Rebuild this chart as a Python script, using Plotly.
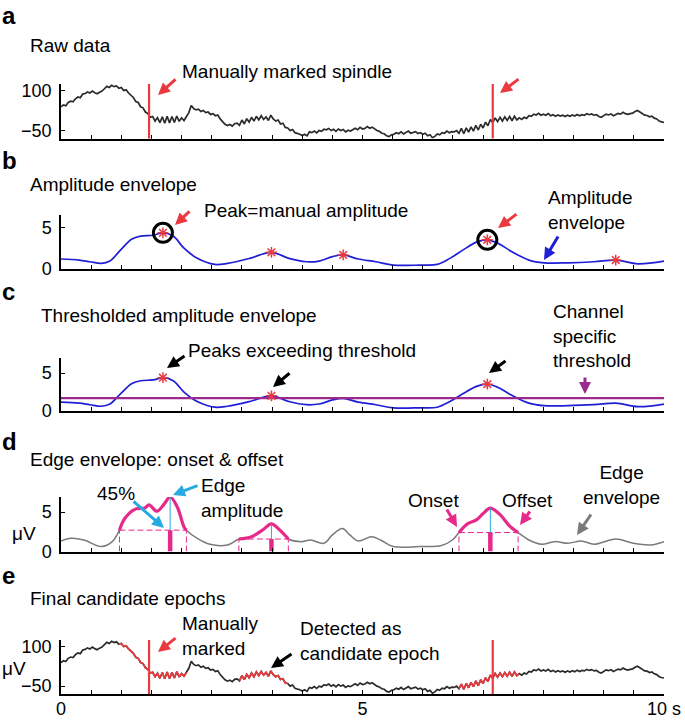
import numpy as np
import plotly.graph_objects as go

W, H = 685, 720

# ---------------- data ----------------
# raw EEG trace, sampled every 0.04 s from 0 to 10 s (microvolts)
raw_uv = [
    40, 47, 44, 56, 61, 59, 70, 77, 74, 88,
    90, 96, 92, 99, 93, 89, 95, 99, 108, 117,
    113, 121, 116, 119, 110, 113, 101, 104, 92, 84,
    75, 60, 56, 40, 36, 20, 14, 0, 3, -14,
    -1, -20, 2, -22, 4, -21, 3, -19, 5, -15,
    -2, -12, 2, 18, 45, 33, 28, 31, 22, 26,
    18, 20, 11, 14, 6, 9, -6, -18, -26, -31,
    -27, -33, -24, -22, -30, -10, -25, -5, -18, 0,
    -14, 4, -10, 6, -8, 2, -12, 8, -6, -14,
    -10, -25, -22, -38, -40, -50, -46, -58, -60, -64,
    -69, -64, -70, -55, -58, -52, -59, -50, -53, -45,
    -47, -42, -50, -45, -53, -44, -50, -46, -55, -49,
    -52, -45, -41, -47, -38, -44, -42, -35, -41, -37,
    -44, -50, -53, -60, -62, -70, -73, -66, -64, -58,
    -62, -55, -63, -58, -52, -60, -57, -54, -61, -58,
    -64, -60, -70, -66, -77, -72, -63, -66, -58, -60,
    -52, -58, -54, -55, -50, -60, -42, -62, -40, -56,
    -36, -52, -30, -48, -26, -40, -18, -32, -8, -20,
    -2, -16, 0, -14, 2, -12, 3, -13, 4, -10,
    -2, -8, 0, -4, 6, 4, 12, 9, 15, 8,
    12, 8, 14, 6, 10, 4, 9, 5, 8, 3,
    8, 4, 9, 5, 11, 6, 10, 8, 14, 10,
    13, 8, 10, 3, 0, 7, 12, 9, 13, 6,
    9, 15, 12, 19, 14, 11, 14, 16, 22, 26,
    20, 14, 8, 7, 2, 4, -3, -6, -14, -17,
    -19,
]
raw_dt = 0.04

# manually marked spindles (s)
manual_marks = [1.46, 7.16]

# amplitude envelope
amp_t = [0, 0.30, 0.48, 0.67, 0.81, 0.99, 1.17, 1.32, 1.53, 1.69, 1.86, 2.04, 2.26,
         2.55, 2.76, 3.13, 3.49, 3.78, 4.07, 4.28, 4.5, 4.68, 4.93, 5.22, 5.51, 5.95,
         6.24, 6.45, 6.67, 6.89, 7.07, 7.25, 7.47, 7.76, 8.01, 8.41, 8.84, 9.2, 9.57, 10]
amp_v = [1.17, 1.04, 0.83, 0.63, 0.92, 2.3, 3.6, 4.0, 4.1, 4.4, 4.0, 2.5, 1.25,
         0.5, 0.63, 1.25, 2.0, 1.25, 0.83, 0.92, 1.46, 1.67, 1.17, 0.83, 0.42, 0.42,
         0.5, 1.25, 2.3, 3.25, 3.54, 3.1, 2.1, 1.04, 0.7, 0.7, 0.83, 1.04, 0.58, 0.92]

# envelope peaks
peak_t = [1.69, 3.49, 4.68, 7.07, 9.2]
peak_v = [4.4, 2.0, 1.67, 3.54, 1.04]
manual_peak_t = [1.69, 7.07]
manual_peak_v = [4.4, 3.54]
threshold = 1.7

# edge envelope
edge_t = [0, 0.16, 0.38, 0.67, 0.85, 0.97, 1.06, 1.24, 1.39, 1.46, 1.59, 1.71, 1.81, 1.93,
          2.04, 2.08, 2.26, 2.47, 2.76, 2.95, 3.16, 3.34, 3.49, 3.63, 3.77, 3.99, 4.14,
          4.36, 4.5, 4.67, 4.79, 4.93, 5.15, 5.3, 5.51, 5.95, 6.31, 6.49, 6.6, 6.74, 6.89,
          7.0, 7.12, 7.29, 7.43, 7.58, 7.76, 7.97, 8.19, 8.41, 8.63, 8.84, 9.2, 9.49, 9.78, 10]
edge_v = [1.33, 1.67, 1.46, 0.63, 1.25, 2.7, 4.2, 5.4, 5.5, 5.9, 5.1, 6.0, 6.9, 5.6,
          3.1, 2.7, 1.67, 0.92, 0.83, 1.58, 1.88, 2.7, 3.5, 2.7, 1.58, 1.25, 1.46,
          1.04, 2.1, 2.9, 2.1, 1.33, 1.88, 1.46, 0.63, 0.63, 0.75, 1.46, 2.4, 3.5, 4.0,
          4.8, 5.5, 4.6, 3.3, 2.4, 1.46, 0.92, 1.25, 1.04, 1.33, 0.92, 1.58, 1.04, 0.83, 1.25]

epoch_onset = [0.97, 2.95, 6.60]
epoch_offset = [2.08, 3.77, 7.58]
edge_peak_t = [1.81, 3.49, 7.12]
edge_peak_v = [6.9, 3.5, 5.5]
edge_level = [2.7, 1.58, 2.4]

x_tick_vals = [i * 0.5 for i in range(21)]
x_tick_text = ["0"] + [""] * 9 + ["5"] + [""] * 9 + ["10 s"]

# ---------------- styling ----------------
FONT = "Liberation Sans, Arial, Helvetica, sans-serif"
RED = "#ea3a3f"
BLUE = "#1f1fd6"
PURPLE = "#9c2a8c"
MAGENTA = "#e6298b"
CYAN = "#27aae1"
GRAY = "#7a7a7a"
DARK = "#2b2b2b"

raw_t = np.round(np.arange(len(raw_uv)) * raw_dt, 2)
raw_arr = np.array(raw_uv)

fig = go.Figure()

# panel a
fig.add_trace(go.Scatter(x=raw_t, y=raw_uv, mode="lines", line=dict(color=DARK, width=1.7),
                         xaxis="x", yaxis="y"))
for m in manual_marks:
    fig.add_shape(type="line", x0=m, x1=m, y0=0, y1=1, xref="x", yref="y domain",
                  line=dict(color=RED, width=2.2))

# panel b
fig.add_trace(go.Scatter(x=amp_t, y=amp_v, mode="lines", line=dict(color=BLUE, width=1.7, shape="spline"),
                         xaxis="x2", yaxis="y2"))
fig.add_trace(go.Scatter(x=manual_peak_t, y=manual_peak_v, mode="markers",
                         marker=dict(symbol="circle-open", size=19, color="black", line=dict(width=3)),
                         xaxis="x2", yaxis="y2"))
fig.add_trace(go.Scatter(x=peak_t, y=peak_v, mode="markers",
                         marker=dict(symbol="asterisk-open", size=9, color=RED, line=dict(width=1.5, color=RED)),
                         xaxis="x2", yaxis="y2"))

# panel c
fig.add_trace(go.Scatter(x=amp_t, y=amp_v, mode="lines", line=dict(color=BLUE, width=1.7, shape="spline"),
                         xaxis="x3", yaxis="y3"))
fig.add_trace(go.Scatter(x=[0, 10], y=[threshold, threshold], mode="lines",
                         line=dict(color=PURPLE, width=2.2), xaxis="x3", yaxis="y3"))
above = [(t, v) for t, v in zip(peak_t, peak_v) if v > threshold]
fig.add_trace(go.Scatter(x=[a[0] for a in above], y=[a[1] for a in above], mode="markers",
                         marker=dict(symbol="asterisk-open", size=9, color=RED, line=dict(width=1.5, color=RED)),
                         xaxis="x3", yaxis="y3"))

# panel d
fig.add_trace(go.Scatter(x=edge_t, y=edge_v, mode="lines", line=dict(color=GRAY, width=1.5, shape="spline"),
                         xaxis="x4", yaxis="y4"))
for on, off, pt, pv, lv in zip(epoch_onset, epoch_offset, edge_peak_t, edge_peak_v, edge_level):
    seg_t = [t for t in edge_t if on <= t <= off]
    seg_v = [v for t, v in zip(edge_t, edge_v) if on <= t <= off]
    fig.add_trace(go.Scatter(x=seg_t, y=seg_v, mode="lines",
                             line=dict(color=MAGENTA, width=3.2, shape="spline"), xaxis="x4", yaxis="y4"))
    # 45% level
    fig.add_trace(go.Scatter(x=[on, off], y=[lv, lv], mode="lines",
                             line=dict(color=MAGENTA, width=1, dash="6px,3px"), xaxis="x4", yaxis="y4"))
    for xx in (on, off):
        fig.add_trace(go.Scatter(x=[xx, xx], y=[0, lv], mode="lines",
                                 line=dict(color=MAGENTA, width=1, dash="6px,3px"), xaxis="x4", yaxis="y4"))
    fig.add_trace(go.Scatter(x=[pt, pt], y=[0, lv], mode="lines",
                             line=dict(color=MAGENTA, width=4.5), xaxis="x4", yaxis="y4"))
    fig.add_trace(go.Scatter(x=[pt, pt], y=[lv, pv], mode="lines",
                             line=dict(color=CYAN, width=1), xaxis="x4", yaxis="y4"))

# panel e
fig.add_trace(go.Scatter(x=raw_t, y=raw_uv, mode="lines", line=dict(color=DARK, width=1.7),
                         xaxis="x5", yaxis="y5"))
for on, off in zip(epoch_onset, epoch_offset):
    mask = (raw_t >= on - 0.02) & (raw_t <= off + 0.02)
    fig.add_trace(go.Scatter(x=raw_t[mask], y=raw_arr[mask], mode="lines",
                             line=dict(color=RED, width=1.7), xaxis="x5", yaxis="y5"))
for m in manual_marks:
    fig.add_shape(type="line", x0=m, x1=m, y0=0, y1=1, xref="x5", yref="y5 domain",
                  line=dict(color=RED, width=2.2))

# ---------------- layout ----------------
def py(y):
    return 1 - y / H

def px(x):
    return x / W

xdom = [px(61), px(664)]
panels = [  # (top px, bottom px, yrange, tickvals)
    (84, 138.5, [-80, 126], [-50, 100]),
    (215, 268.5, [0, 6.6], [0, 5]),
    (358, 411, [0, 7.0], [0, 5]),
    (497, 551.5, [0, 6.9], [0, 5]),
    (640, 694, [-80, 126], [-50, 100]),
]

layout = dict(
    width=W, height=H, margin=dict(l=0, r=0, t=0, b=0, autoexpand=False),
    paper_bgcolor="white", plot_bgcolor="white", showlegend=False,
    font=dict(family=FONT, size=18, color="black"),
)
for i, (top, bot, yr, tv) in enumerate(panels, start=1):
    sx = "" if i == 1 else str(i)
    last = i == 5
    layout["xaxis" + sx] = dict(
        domain=xdom, range=[0, 10], anchor="y" + sx, showline=True, linewidth=2, linecolor="black",
        ticks="inside", ticklen=4, tickwidth=1.2, tickcolor="black", tickmode="array",
        tickvals=x_tick_vals, ticktext=x_tick_text if last else [""] * len(x_tick_vals),
        showticklabels=last, showgrid=False, zeroline=False, tickfont=dict(size=18),
        ticklabelstandoff=-3, automargin=False,
    )
    layout["yaxis" + sx] = dict(
        domain=[py(bot), py(top)], range=yr, anchor="x" + sx, showline=True, linewidth=1.5,
        linecolor="black", ticks="inside", ticklen=4, tickwidth=1.2, tickcolor="black",
        tickvals=tv, showgrid=False, zeroline=False, tickfont=dict(size=18), ticklabelstandoff=4,
        automargin=False,
    )

ann = []

def text(x, y, s, size=19, xanchor="left", align="left", color="black"):
    ann.append(dict(x=px(x), y=py(y), xref="paper", yref="paper", text=s, showarrow=False,
                    xanchor=xanchor, yanchor="middle", align=align,
                    font=dict(size=size, color=color, family=FONT)))

def arrow(hx, hy, tx, ty, color):
    ann.append(dict(x=px(hx), y=py(hy), xref="paper", yref="paper", ax=tx - hx, ay=ty - hy,
                    axref="pixel", ayref="pixel", text="", showarrow=True, arrowhead=2,
                    arrowsize=0.8, arrowwidth=3, arrowcolor=color, standoff=0))

# panel letters and titles
for lab, yy in zip(["a", "b", "c", "d", "e"], [15, 160, 291, 441, 575]):
    text(0, yy, "<b>" + lab + "</b>", size=24)
text(28, 45, "Raw data")
text(28, 185, "Amplitude envelope")
text(39, 315, "Thresholded amplitude envelope")
text(28, 460, "Edge envelope: onset &amp; offset")
text(28, 598, "Final candidate epochs")

# a
text(180, 72, "Manually marked spindle")
arrow(158, 95, 177, 78, RED)
arrow(500, 93, 520, 78, RED)
# b
text(202, 210, "Peak=manual amplitude")
arrow(175, 225, 191, 210, RED)
arrow(498, 228, 518, 213, RED)
text(546, 210, "Amplitude<br>envelope")
arrow(544, 260, 559, 235, BLUE)
# c
text(186, 350, "Peaks exceeding threshold")
arrow(167, 368, 186, 355, "black")
arrow(273, 387, 291, 372, "black")
arrow(489, 373, 507, 360, "black")
text(551, 336, "Channel<br>specific<br>threshold")
arrow(585, 394, 585, 376, PURPLE)
# d
text(116, 493, "45%", xanchor="center")
arrow(164, 528, 132, 500, CYAN)
text(199, 498, "Edge<br>amplitude")
arrow(173, 495, 199, 485, CYAN)
text(433, 500, "Onset", xanchor="center")
arrow(457, 527, 446, 508, MAGENTA)
text(527, 500, "Offset", xanchor="center")
arrow(520, 525, 531, 510, MAGENTA)
text(621, 485, "Edge<br>envelope", xanchor="center", align="center")
arrow(577, 535, 592, 513, GRAY)
text(24, 533, "μV", xanchor="center")
# e
text(180, 636, "Manually<br>marked")
arrow(158, 652, 177, 637, RED)
text(298, 641, "Detected as<br>candidate epoch")
arrow(271, 668, 293, 653, "black")
text(0, 668, "μV", xanchor="left")

layout["annotations"] = ann
fig.update_layout(**layout)
fig.write_html(
    "out.html",
    config={"displayModeBar": False},
    post_script="document.body.style.margin='0';document.body.style.overflow='hidden';",
)
